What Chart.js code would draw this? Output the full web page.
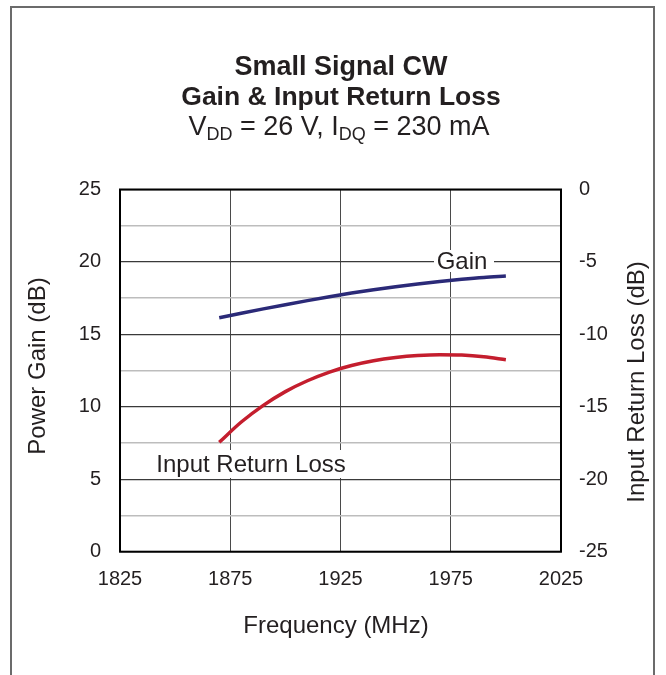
<!DOCTYPE html>
<html>
<head>
<meta charset="utf-8">
<script src="https://cdn.jsdelivr.net/npm/chart.js@4.4.0/dist/chart.umd.min.js"></script>
<style>
  body { margin: 0; background: #fff; }
  #wrap { width: 666px; height: 675px; }
</style>
</head>
<body>
<div id="wrap"><canvas id="chart" width="666" height="675"></canvas></div>
<script>
// frequency points (MHz)
const freqs = [1870, 1880, 1890, 1900, 1910, 1920, 1930, 1940, 1950, 1960, 1970, 1980, 1990, 2000];
// power gain (dB), left axis
const gainVals = [16.15, 16.46, 16.76, 17.05, 17.33, 17.6, 17.85, 18.08, 18.29, 18.48, 18.65, 18.8, 18.93, 19.03];
// input return loss (dB), right axis
const irlVals = [-17.45, -16.05, -14.9, -13.95, -13.2, -12.6, -12.15, -11.82, -11.6, -11.46, -11.4, -11.43, -11.55, -11.75];

const xTicks = [1825, 1875, 1925, 1975, 2025];

const FONT = '"Liberation Sans", Arial, Helvetica, sans-serif';
const TXT = '#231f20';

const toPoints = (ys) => freqs.map((f, i) => ({ x: f, y: ys[i] }));

// title, axis titles, curve labels, frames
const decorations = {
  id: 'decorations',
  beforeDatasetsDraw(chart) {
    const ctx = chart.ctx;
    ctx.save();
    ctx.fillStyle = '#fff';
    ctx.fillRect(434, 250, 60, 22);
    ctx.fillRect(153, 450, 196, 28);
    ctx.fillStyle = TXT;
    ctx.font = '24px ' + FONT;
    ctx.textAlign = 'center';
    ctx.textBaseline = 'middle';
    ctx.fillText('Gain', 462, 262);
    ctx.fillText('Input Return Loss', 251, 465);
    ctx.restore();
  },
  afterDatasetsDraw(chart) {
    const ctx = chart.ctx;
    const a = chart.chartArea;
    ctx.save();
    ctx.strokeStyle = '#000';
    ctx.lineWidth = 2;
    ctx.strokeRect(a.left, a.top, a.right - a.left, a.bottom - a.top);

    ctx.strokeStyle = '#6b6b6b';
    ctx.lineWidth = 2;
    ctx.strokeRect(11, 7, 643, 700);

    ctx.fillStyle = TXT;
    ctx.textAlign = 'center';
    ctx.textBaseline = 'alphabetic';
    ctx.font = 'bold 27px ' + FONT;
    ctx.fillText('Small Signal CW', 341, 75);
    ctx.font = 'bold 26.5px ' + FONT;
    ctx.fillText('Gain & Input Return Loss', 341, 105);

    // third line with subscripts
    const parts = [
      ['V', 27, 0], ['DD', 18, 5], [' = 26 V, I', 27, 0], ['DQ', 18, 5], [' = 230 mA', 27, 0]
    ];
    let total = 0;
    parts.forEach(p => { ctx.font = p[1] + 'px ' + FONT; total += ctx.measureText(p[0]).width; });
    let x = 339 - total / 2;
    ctx.textAlign = 'left';
    parts.forEach(p => {
      ctx.font = p[1] + 'px ' + FONT;
      ctx.fillText(p[0], x, 135 + p[2]);
      x += ctx.measureText(p[0]).width;
    });

    // axis titles
    ctx.font = '24px ' + FONT;
    ctx.textAlign = 'center';
    ctx.textBaseline = 'middle';
    ctx.fillText('Frequency (MHz)', 336, 626);
    ctx.save();
    ctx.translate(38, 366);
    ctx.rotate(-Math.PI / 2);
    ctx.fillText('Power Gain (dB)', 0, 0);
    ctx.restore();
    ctx.save();
    ctx.translate(637, 382);
    ctx.rotate(-Math.PI / 2);
    ctx.fillText('Input Return Loss (dB)', 0, 0);
    ctx.restore();
    ctx.restore();
  }
};

const ctx = document.getElementById('chart').getContext('2d');
new Chart(ctx, {
  type: 'line',
  data: {
    datasets: [{
      label: 'Gain',
      data: toPoints(gainVals),
      yAxisID: 'y',
      borderColor: '#2b2a78',
      borderWidth: 3.5,
      pointRadius: 0,
      cubicInterpolationMode: 'monotone'
    }, {
      label: 'Input Return Loss',
      data: toPoints(irlVals),
      yAxisID: 'yR',
      borderColor: '#c41e2e',
      borderWidth: 3.5,
      pointRadius: 0,
      cubicInterpolationMode: 'monotone'
    }]
  },
  options: {
    responsive: false,
    animation: false,
    layout: { padding: { top: 189.5, left: 0, right: 0, bottom: 0 } },
    plugins: { legend: { display: false }, tooltip: { enabled: false } },
    scales: {
      x: {
        type: 'linear',
        min: 1825,
        max: 2025,
        afterBuildTicks: (s) => { s.ticks = xTicks.map(v => ({ value: v })); },
        afterFit: (s) => { s.height = 123.3; },
        ticks: {
          padding: 16,
          color: TXT,
          font: { size: 20, family: FONT },
          callback: (v) => String(v)
        },
        grid: { color: '#4a4a4a', lineWidth: 1, drawTicks: false },
        border: { display: false }
      },
      y: {
        position: 'left',
        min: 0,
        max: 25,
        afterFit: (s) => { s.width = 120; },
        ticks: {
          stepSize: 2.5,
          padding: 19,
          color: TXT,
          font: { size: 20, family: FONT },
          callback: (v) => (v % 5 === 0 ? String(v) : '')
        },
        grid: {
          drawTicks: false,
          color: (c) => (c.tick.value % 5 === 0 ? '#3a3a3a' : '#bdbdbd'),
          lineWidth: (c) => (c.tick.value % 5 === 0 ? 1.3 : 1.6)
        },
        border: { display: false }
      },
      yR: {
        position: 'right',
        min: -25,
        max: 0,
        afterFit: (s) => { s.width = 105; },
        ticks: { stepSize: 5, padding: 18, color: TXT, font: { size: 20, family: FONT } },
        grid: { display: false, drawTicks: false },
        border: { display: false }
      }
    }
  },
  plugins: [decorations]
});
</script>
</body>
</html>
